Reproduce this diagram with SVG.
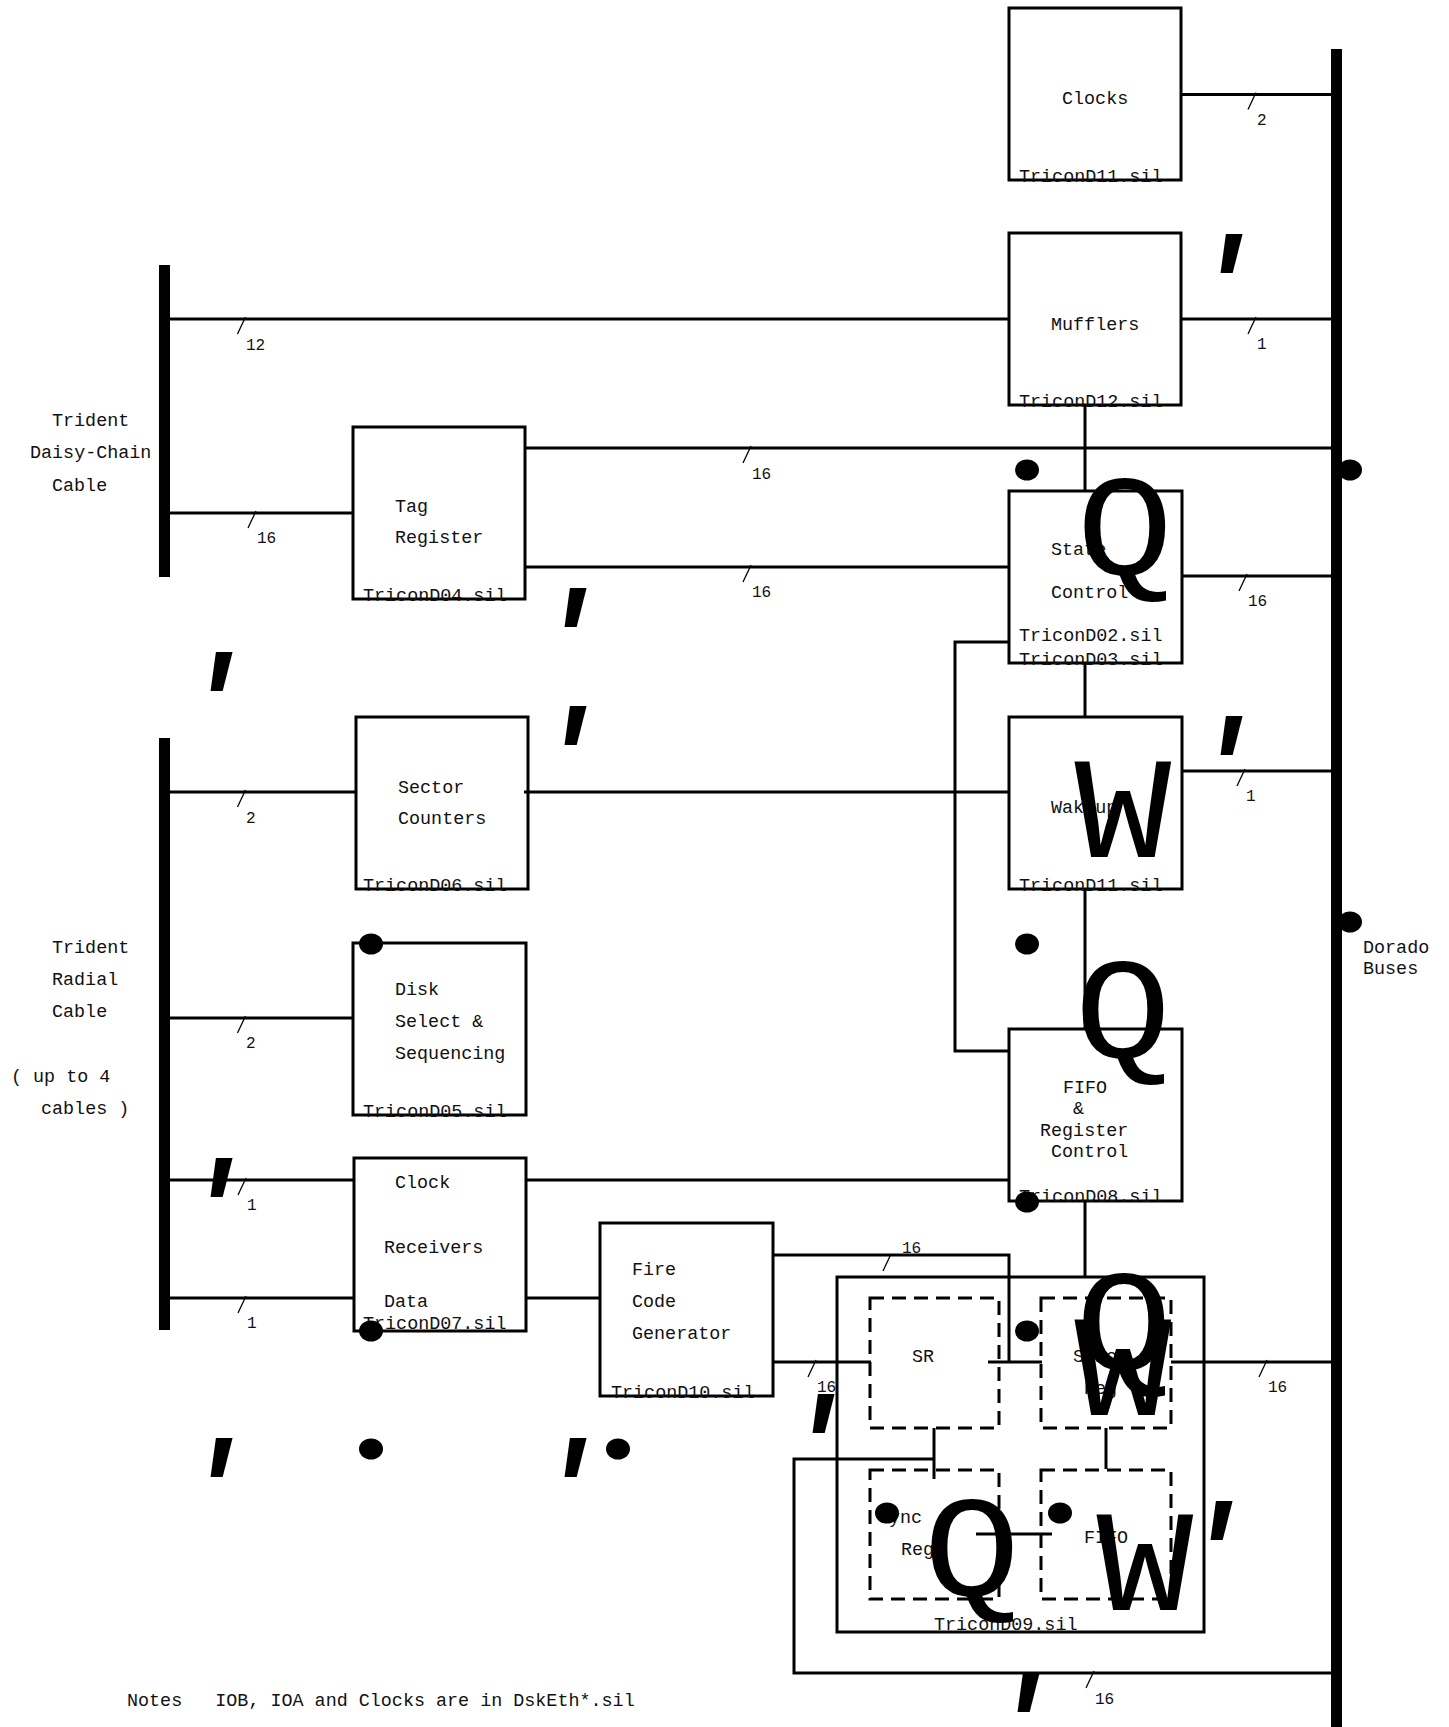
<svg xmlns="http://www.w3.org/2000/svg" width="1449" height="1727" viewBox="0 0 1449 1727">
<style>
.box{fill:none;stroke:#000;stroke-width:3}
.dash{fill:none;stroke:#000;stroke-width:3;stroke-dasharray:14 8}
.ln{fill:none;stroke:#000;stroke-width:3}
.bus{fill:none;stroke:#000;stroke-width:11}
.tick{fill:none;stroke:#000;stroke-width:1.3}
.t{font-family:"Liberation Mono","Courier New",monospace;font-size:18.4px;fill:#111;white-space:pre}
.n{font-family:"Liberation Mono","Courier New",monospace;font-size:16px;fill:#111}
.g{font-family:"Liberation Mono","Courier New",monospace;font-size:144px;fill:#000;text-anchor:middle}
.a{font-family:"Liberation Mono","Courier New",monospace;font-size:125px;font-weight:bold;font-style:italic;fill:#000;text-anchor:middle}
.dot{fill:#000}
</style>
<rect width="1449" height="1727" fill="#fff"/>

<g id="buses">
<line class="bus" x1="1336.5" y1="49" x2="1336.5" y2="1727"/>
<line class="bus" x1="164.5" y1="265" x2="164.5" y2="577"/>
<line class="bus" x1="164.5" y1="738" x2="164.5" y2="1330"/>
</g>

<g id="connectors">
<line class="ln" x1="1181" y1="94.5" x2="1336" y2="94.5"/>
<line class="ln" x1="1181" y1="319" x2="1336" y2="319"/>
<line class="ln" x1="164" y1="319" x2="1009" y2="319"/>
<line class="ln" x1="164" y1="513" x2="353" y2="513"/>
<line class="ln" x1="525" y1="448" x2="1336" y2="448"/>
<line class="ln" x1="525" y1="567" x2="1009" y2="567"/>
<line class="ln" x1="1182" y1="576" x2="1336" y2="576"/>
<line class="ln" x1="1085" y1="405" x2="1085" y2="491"/>
<line class="ln" x1="1085" y1="663" x2="1085" y2="717"/>
<line class="ln" x1="1085" y1="889" x2="1085" y2="1029"/>
<line class="ln" x1="1085" y1="1201" x2="1085" y2="1277"/>
<polyline class="ln" points="1009,642 955,642 955,1051 1009,1051"/>
<line class="ln" x1="164" y1="792" x2="356" y2="792"/>
<line class="ln" x1="524" y1="792" x2="1009" y2="792"/>
<line class="ln" x1="1182" y1="771" x2="1336" y2="771"/>
<line class="ln" x1="164" y1="1018" x2="353" y2="1018"/>
<line class="ln" x1="164" y1="1180" x2="354" y2="1180"/>
<line class="ln" x1="164" y1="1298" x2="354" y2="1298"/>
<line class="ln" x1="526" y1="1180" x2="1009" y2="1180"/>
<line class="ln" x1="526" y1="1298" x2="600" y2="1298"/>
<polyline class="ln" points="772,1255 1009,1255 1009,1363"/>
<line class="ln" x1="988" y1="1362" x2="1042" y2="1362"/>
<line class="ln" x1="773" y1="1362" x2="871" y2="1362"/>
<line class="ln" x1="1171" y1="1362" x2="1336" y2="1362"/>
<line class="ln" x1="934" y1="1428" x2="934" y2="1479"/>
<polyline class="ln" points="934,1459 794,1459 794,1673 1336,1673"/>
<line class="ln" x1="1106" y1="1428" x2="1106" y2="1469"/>
<line class="ln" x1="976" y1="1534" x2="1052" y2="1534"/>

<line class="tick" x1="1256" y1="92.5" x2="1248" y2="109.5"/>
<text class="n" x="1257" y="124.5">2</text>
<line class="tick" x1="1256" y1="317" x2="1248" y2="334"/>
<text class="n" x="1257" y="349">1</text>
<line class="tick" x1="245.5" y1="317" x2="237.5" y2="334"/>
<text class="n" x="246" y="350">12</text>
<line class="tick" x1="256" y1="511" x2="248" y2="528"/>
<text class="n" x="257" y="543">16</text>
<line class="tick" x1="751" y1="446" x2="743" y2="463"/>
<text class="n" x="752" y="479">16</text>
<line class="tick" x1="751" y1="565" x2="743" y2="582"/>
<text class="n" x="752" y="597">16</text>
<line class="tick" x1="1247" y1="574" x2="1239" y2="591"/>
<text class="n" x="1248" y="606">16</text>
<line class="tick" x1="1245" y1="769" x2="1237" y2="786"/>
<text class="n" x="1246" y="801">1</text>
<line class="tick" x1="245.5" y1="790" x2="237.5" y2="807"/>
<text class="n" x="246" y="823">2</text>
<line class="tick" x1="245.5" y1="1016" x2="237.5" y2="1033"/>
<text class="n" x="246" y="1048">2</text>
<line class="tick" x1="246" y1="1178" x2="238" y2="1195"/>
<text class="n" x="247" y="1210">1</text>
<line class="tick" x1="246" y1="1296" x2="238" y2="1313"/>
<text class="n" x="247" y="1328">1</text>
<line class="tick" x1="891" y1="1254" x2="883" y2="1271"/>
<text class="n" x="902" y="1253">16</text>
<line class="tick" x1="816" y1="1360" x2="808" y2="1377"/>
<text class="n" x="817" y="1392">16</text>
<line class="tick" x1="1267" y1="1360" x2="1259" y2="1377"/>
<text class="n" x="1268" y="1392">16</text>
<line class="tick" x1="1094" y1="1671" x2="1086" y2="1688"/>
<text class="n" x="1095" y="1704">16</text>
</g>

<g id="clocks">
<rect class="box" x="1009" y="8" width="172" height="172"/>
<text class="t" x="1062" y="104">Clocks</text>
<text class="t" x="1019" y="182">TriconD11.sil</text>
</g>
<g id="mufflers">
<rect class="box" x="1009" y="233" width="172" height="172"/>
<text class="t" x="1051" y="330">Mufflers</text>
<text class="t" x="1019" y="407">TriconD12.sil</text>
</g>
<g id="tag-register">
<rect class="box" x="353" y="427" width="172" height="172"/>
<text class="t" x="395" y="512">Tag</text>
<text class="t" x="395" y="543">Register</text>
<text class="t" x="363" y="601">TriconD04.sil</text>
</g>
<g id="state-control">
<rect class="box" x="1009" y="491" width="173" height="172"/>
<text class="t" x="1051" y="555">State</text>
<text class="t" x="1051" y="598">Control</text>
<text class="t" x="1019" y="641">TriconD02.sil</text>
<text class="t" x="1019" y="665">TriconD03.sil</text>
</g>
<g id="sector-counters">
<rect class="box" x="356" y="717" width="172" height="172"/>
<text class="t" x="398" y="793">Sector</text>
<text class="t" x="398" y="824">Counters</text>
<text class="t" x="363" y="891">TriconD06.sil</text>
</g>
<g id="wakeup">
<rect class="box" x="1009" y="717" width="173" height="172"/>
<text class="t" x="1051" y="813">Wakeup</text>
<text class="t" x="1019" y="891">TriconD11.sil</text>
</g>
<g id="disk-select">
<rect class="box" x="353" y="943" width="173" height="172"/>
<text class="t" x="395" y="995">Disk</text>
<text class="t" x="395" y="1027">Select &amp;</text>
<text class="t" x="395" y="1059">Sequencing</text>
<text class="t" x="363" y="1117">TriconD05.sil</text>
</g>
<g id="fifo-register-control">
<rect class="box" x="1009" y="1029" width="173" height="172"/>
<text class="t" x="1063" y="1093">FIFO</text>
<text class="t" x="1073" y="1114">&amp;</text>
<text class="t" x="1040" y="1136">Register</text>
<text class="t" x="1051" y="1157">Control</text>
<text class="t" x="1019" y="1202">TriconD08.sil</text>
</g>
<g id="clock-receivers">
<rect class="box" x="354" y="1158" width="172" height="173"/>
<text class="t" x="395" y="1188">Clock</text>
<text class="t" x="384" y="1253">Receivers</text>
<text class="t" x="384" y="1307">Data</text>
<text class="t" x="363" y="1329">TriconD07.sil</text>
</g>
<g id="fire-code-generator">
<rect class="box" x="600" y="1223" width="173" height="173"/>
<text class="t" x="632" y="1275">Fire</text>
<text class="t" x="632" y="1307">Code</text>
<text class="t" x="632" y="1339">Generator</text>
<text class="t" x="611" y="1398">TriconD10.sil</text>
</g>
<g id="tricond09">
<rect class="box" x="837" y="1277" width="367" height="355"/>
<text class="t" x="934" y="1630">TriconD09.sil</text>
</g>
<g id="sr">
<rect class="dash" x="870" y="1298" width="129" height="130"/>
<text class="t" x="912" y="1362">SR</text>
</g>
<g id="sync-reg-a">
<rect class="dash" x="1041" y="1298" width="130" height="130"/>
<text class="t" x="1073" y="1362">Sync</text>
<text class="t" x="1084" y="1394">Reg</text>
</g>
<g id="sync-reg-b">
<rect class="dash" x="870" y="1470" width="129" height="129"/>
<text class="t" x="878" y="1523">Sync</text>
<text class="t" x="901" y="1555">Reg</text>
</g>
<g id="fifo">
<rect class="dash" x="1041" y="1470" width="130" height="129"/>
<text class="t" x="1084" y="1543">FIFO</text>
</g>

<g id="labels">
<text class="t" x="52" y="426">Trident</text>
<text class="t" x="30" y="458">Daisy-Chain</text>
<text class="t" x="52" y="491">Cable</text>
<text class="t" x="52" y="953">Trident</text>
<text class="t" x="52" y="985">Radial</text>
<text class="t" x="52" y="1017">Cable</text>
<text class="t" x="11" y="1082">( up to 4</text>
<text class="t" x="41" y="1114">cables )</text>
<text class="t" x="1363" y="953">Dorado</text>
<text class="t" x="1363" y="974">Buses</text>
<text class="t" x="127" y="1706">Notes   IOB, IOA and Clocks are in DskEth*.sil</text>
</g>

<g id="stray-glyphs">
<text class="g" transform="translate(1125 575) scale(1.12 1)">Q</text>
<text class="g" transform="translate(1123 857) scale(1.12 1)">W</text>
<text class="g" transform="translate(1123 1058) scale(1.12 1)">Q</text>
<text class="g" transform="translate(1124 1370) scale(1.12 1)">Q</text>
<text class="g" transform="translate(1123 1415) scale(1.12 1)">W</text>
<text class="g" transform="translate(972 1596) scale(1.12 1)">Q</text>
<text class="g" transform="translate(1145 1610) scale(1.12 1)">W</text>
<text class="a" x="1223" y="324">'</text>
<text class="a" x="567" y="678">'</text>
<text class="a" x="213" y="742">'</text>
<text class="a" x="567" y="796">'</text>
<text class="a" x="1223" y="806">'</text>
<text class="a" x="213" y="1248">'</text>
<text class="a" x="213" y="1528">'</text>
<text class="a" x="567" y="1528">'</text>
<text class="a" x="815" y="1484">'</text>
<text class="a" x="1213" y="1591">'</text>
<text class="a" x="1020" y="1763">'</text>
<ellipse class="dot" cx="1027" cy="470" rx="12" ry="10.5"/>
<ellipse class="dot" cx="1350" cy="470" rx="12" ry="10.5"/>
<ellipse class="dot" cx="1027" cy="944" rx="12" ry="10.5"/>
<ellipse class="dot" cx="1350" cy="922" rx="12" ry="10.5"/>
<ellipse class="dot" cx="371" cy="944" rx="12" ry="10.5"/>
<ellipse class="dot" cx="371" cy="1331" rx="12" ry="10.5"/>
<ellipse class="dot" cx="1027" cy="1202" rx="12" ry="10.5"/>
<ellipse class="dot" cx="371" cy="1449" rx="12" ry="10.5"/>
<ellipse class="dot" cx="618" cy="1449" rx="12" ry="10.5"/>
<ellipse class="dot" cx="1027" cy="1331" rx="12" ry="10.5"/>
<ellipse class="dot" cx="887" cy="1513" rx="12" ry="10.5"/>
<ellipse class="dot" cx="1060" cy="1513" rx="12" ry="10.5"/>
</g>
</svg>
